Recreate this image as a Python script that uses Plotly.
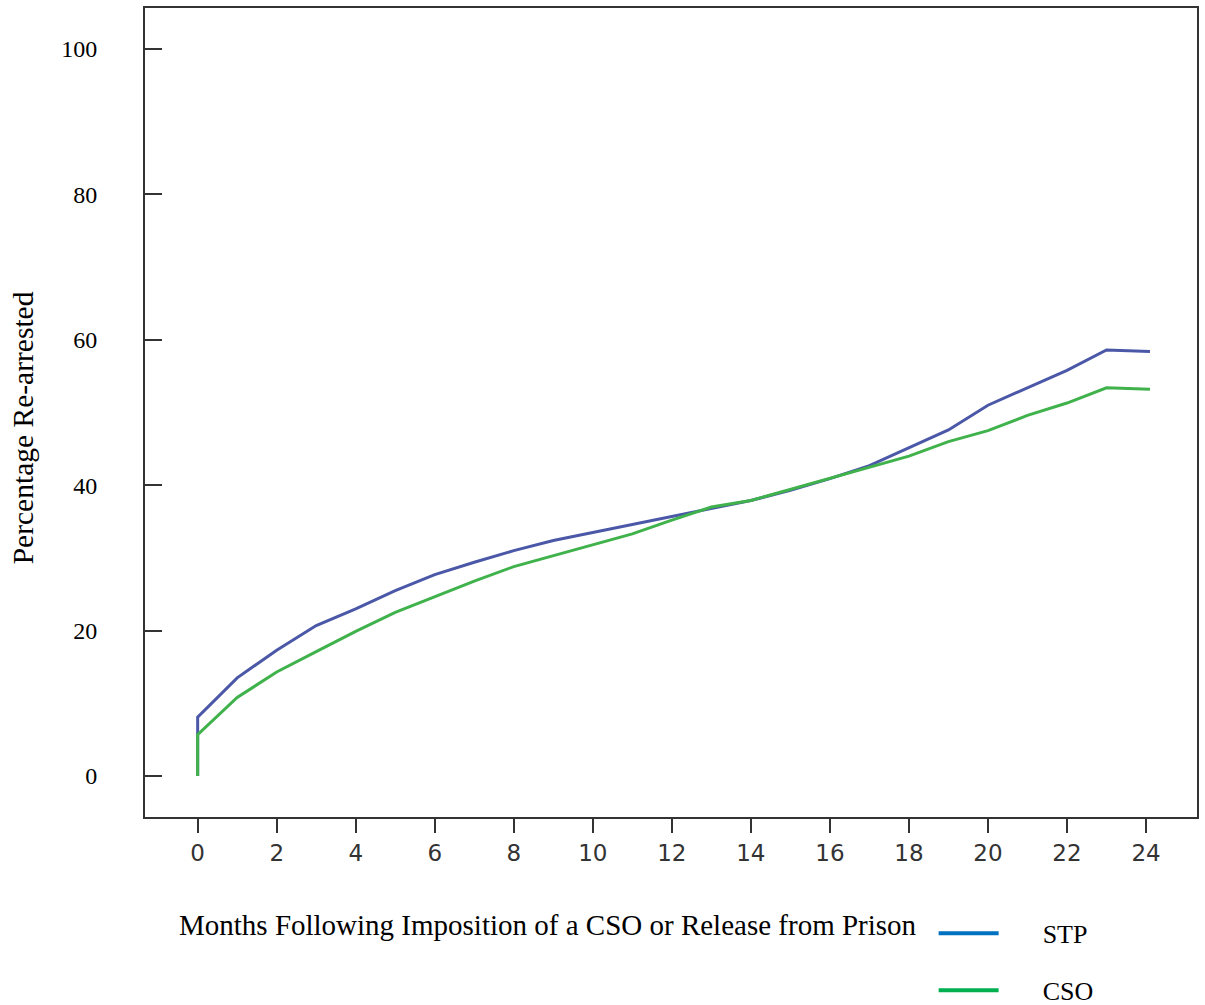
import plotly.graph_objects as go

months = [0, 0, 1, 2, 3, 4, 5, 6, 7, 8, 9, 10, 11, 12, 13, 14, 15, 16, 17, 18, 19, 20, 21, 22, 23, 24.1]
stp = [0, 8.1, 13.5, 17.3, 20.7, 23.0, 25.5, 27.7, 29.4, 31.0, 32.4, 33.5, 34.7, 35.8, 36.9, 37.9,
       39.3, 40.9, 42.7, 45.1, 47.6, 51.0, 53.4, 55.8, 58.6, 58.4]
cso = [0, 5.7, 10.8, 14.3, 17.1, 19.9, 22.5, 24.7, 26.8, 28.8, 30.3, 31.8, 33.3, 35.2, 37.0, 37.9,
       39.4, 40.9, 42.5, 44.0, 46.0, 47.5, 49.6, 51.3, 53.4, 53.2]
series_names = ["STP", "CSO"]
x_ticks = list(range(0, 25, 2))
y_ticks = [0, 20, 40, 60, 80, 100]

line_colors = ["#4b58a8", "#40b24c"]
legend_colors = ["#0070c0", "#00b050"]

fig = go.Figure()
fig.add_trace(go.Scatter(x=months, y=stp, mode="lines", line=dict(color=line_colors[0], width=3),
                         showlegend=False, hoverinfo="skip"))
fig.add_trace(go.Scatter(x=months, y=cso, mode="lines", line=dict(color=line_colors[1], width=3),
                         showlegend=False, hoverinfo="skip"))
# legend entries
for name, col in zip(series_names, legend_colors):
    fig.add_trace(go.Scatter(x=[None], y=[None], mode="lines", name="\u00a0" * 6 + name,
                             line=dict(color=col, width=4), legendgroup=name))

fig.update_layout(
    width=1205, height=1005,
    margin=dict(l=145, r=8, t=8, b=188, autoexpand=False),
    paper_bgcolor="white", plot_bgcolor="white",
    font=dict(family="Liberation Serif", color="black"),
    legend=dict(x=(934 - 145) / 1052.5, y=(817 - 910) / 809.5, xanchor="left", yanchor="top",
                itemwidth=60, tracegroupgap=20, traceorder="grouped",
                font=dict(family="Liberation Serif", size=26, color="black"),
                bgcolor="rgba(0,0,0,0)"),
    xaxis=dict(range=[-1.333, 25.29], tickvals=x_ticks, ticks="outside", ticklen=14, tickwidth=2,
               tickcolor="#333", showline=True, linecolor="#333", linewidth=2, mirror=True,
               showgrid=False, zeroline=False,
               tickfont=dict(family="DejaVu Sans", size=23, color="#333")),
    yaxis=dict(range=[-5.64, 105.64], tickvals=y_ticks, ticks="inside", ticklen=17, tickwidth=2,
               tickcolor="#333", showline=True, linecolor="#333", linewidth=2, mirror=True,
               showgrid=False, zeroline=False, ticklabelstandoff=41,
               tickfont=dict(family="Liberation Serif", size=24, color="black")),
    annotations=[
        dict(text="Percentage Re-arrested", x=23, y=428, xref="paper", yref="paper",
             xanchor="center", yanchor="middle",
             showarrow=False, textangle=-90, font=dict(size=29.5)),
        dict(text="Months Following Imposition of a CSO or Release from Prison", x=548, y=925,
             xref="paper", yref="paper", xanchor="center", yanchor="middle",
             showarrow=False, font=dict(size=29)),
    ],
)
# convert pixel positions of annotations to paper coords
for a in fig.layout.annotations:
    a.x = (a.x - 145) / 1052.5
    a.y = (817 - a.y) / 809.5

fig.write_html("out.html")
